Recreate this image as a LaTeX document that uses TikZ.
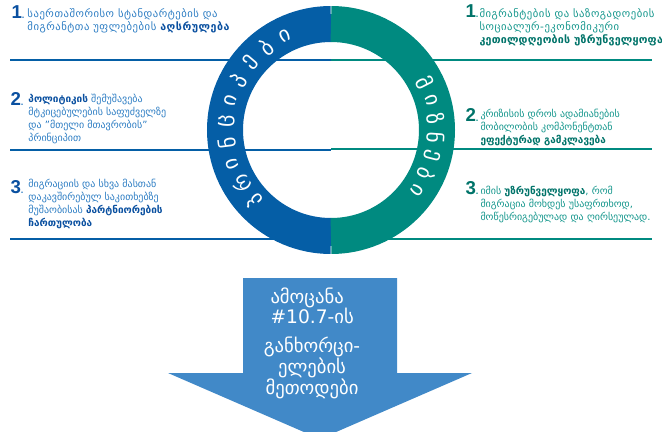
\documentclass[tikz,border=0pt]{standalone}
\usepackage{fontspec}
\setmainfont{DejaVu Sans}
\newfontfamily\numfont{Liberation Sans}

\definecolor{ringblue}{RGB}{5,94,166}
\definecolor{ringteal}{RGB}{0,138,128}
\definecolor{arrowblue}{RGB}{65,137,200}
\definecolor{lefttxt}{RGB}{45,125,195}
\definecolor{leftdark}{RGB}{10,80,160}
\definecolor{righttxt}{RGB}{20,150,140}
\definecolor{rightdark}{RGB}{0,115,105}

\newcommand{\lb}[1]{\textcolor{leftdark}{\textbf{#1}}}
\newcommand{\rb}[1]{\textcolor{rightdark}{\textbf{#1}}}
\newcommand{\wide}[1][5]{\fontsize{8}{9.75}\selectfont\addfontfeature{LetterSpace=#1}}

\tikzset{every picture/.style={line width=0.75pt}}
\tikzset{
  ringletter/.style={text=white, inner sep=0pt, font=\fontsize{16}{16}\selectfont},
  lefttext/.style={anchor=north west, inner sep=0pt, align=left, text=lefttxt, font=\fontsize{7.5}{9.75}\selectfont},
  righttext/.style={anchor=north west, inner sep=0pt, align=left, text=righttxt, font=\fontsize{7.5}{9.75}\selectfont},
  leftnum/.style={anchor=base west, inner sep=0pt, text=leftdark, font=\numfont\bfseries\fontsize{14}{14}\selectfont},
  rightnum/.style={anchor=base west, inner sep=0pt, text=rightdark, font=\numfont\bfseries\fontsize{14}{14}\selectfont},
  arrowtext/.style={inner sep=0pt, text=white, font=\fontsize{14}{15}\selectfont},
  leftrule/.style={draw=ringblue, line width=1.5pt},
  rightrule/.style={draw=ringteal, line width=1.5pt}
}

\begin{document}
\begin{tikzpicture}[x=0.75pt,y=0.75pt,yscale=-1,xscale=1]
	\clip (0,0) rectangle (662,432);

	% Rules behind the ring
	\foreach \y in {60,150,239} {
		\draw [leftrule] (10,\y) -- (331,\y) ;
	}
	\foreach \y in {60,149,239} {
		\draw [rightrule] (331,\y) -- (652,\y) ;
	}

	% Ring
	\coordinate (ringc) at (331,130);
	\draw [ringblue, line width=27pt] (331,236) arc [start angle=90, end angle=270, radius=106] ;
	\draw [ringteal, line width=27pt] (331,236) arc [start angle=90, end angle=-90, radius=106] ;

	% Ring letters
	\foreach \ch [count=\i from 0] in {პ,რ,ი,ნ,ც,ი,პ,ე,ბ,ი} {
		\pgfmathsetmacro\a{223-11.89*\i}
		\node [ringletter, rotate=\a-90] (prin\i) at ({331+105*cos(\a)},{130-105*sin(\a)}) {\ch};
	}
	\foreach \ch [count=\i from 0] in {მ,ი,ზ,ნ,ე,ბ,ი} {
		\pgfmathsetmacro\a{27-10.33*\i}
		\node [ringletter, rotate=\a-90] (goal\i) at ({331+105*cos(\a)},{130-105*sin(\a)}) {\ch};
	}

	% Left column
	\node [leftnum] (lnum1) at (11,18) {1\textcolor{lefttxt}{\fontsize{7}{7}\selectfont.}};
	\node [lefttext] (ltext1) at (27,8) {\wide საერთაშორისო სტანდარტების და\\\wide მიგრანტთა უფლებების \lb{აღსრულება}};
	\node [leftnum] (lnum2) at (10,105) {2\textcolor{lefttxt}{\fontsize{7}{7}\selectfont.}};
	\node [lefttext] (ltext2) at (28,94) {\lb{პოლიტიკის} შემუშავება\\მტკიცებულების საფუძველზე\\და "მთელი მთავრობის"\\პრინციპით};
	\node [leftnum] (lnum3) at (10,193) {3\textcolor{lefttxt}{\fontsize{7}{7}\selectfont.}};
	\node [lefttext] (ltext3) at (28,179) {მიგრაციის და სხვა მასთან\\დაკავშირებულ საკითხებზე\\მუშაობისას \lb{პარტნიორების}\\\lb{ჩართულობა}};

	% Right column
	\node [rightnum] (rnum1) at (465,17) {1\textcolor{righttxt}{\fontsize{7}{7}\selectfont.}};
	\node [righttext] (rtext1) at (479,8) {\wide მიგრანტების და საზოგადოების\\\wide სოციალურ-ეკონომიკური\\\wide[2]\rb{კეთილდღეობის უზრუნველყოფა}};
	\node [rightnum] (rnum2) at (465,122) {2\textcolor{righttxt}{\fontsize{7}{7}\selectfont.}};
	\node [righttext] (rtext2) at (480,109) {კრიზისის დროს ადამიანების\\მობილობის კომპონენტთან\\\rb{ეფექტურად გამკლავება}};
	\node [rightnum] (rnum3) at (465,195) {3\textcolor{righttxt}{\fontsize{7}{7}\selectfont.}};
	\node [righttext] (rtext3) at (480,186) {იმის \rb{უზრუნველყოფა}, რომ\\მიგრაცია მოხდეს უსაფრთხოდ,\\მოწესრიგებულად და ღირსეულად.};

	% Down arrow
	\fill [arrowblue] (243,278) -- (397,278) -- (397,373) -- (472,373) -- (320,439) -- (168,373) -- (243,373) -- cycle ;
	\node [arrowtext, align=left, anchor=north west] (task) at (270,287) {ამოცანა\\\#10.7-ის};
	\node [arrowtext, align=center] (method) at (312,368) {განხორცი-\\ელების\\მეთოდები};

\end{tikzpicture}
\end{document}
